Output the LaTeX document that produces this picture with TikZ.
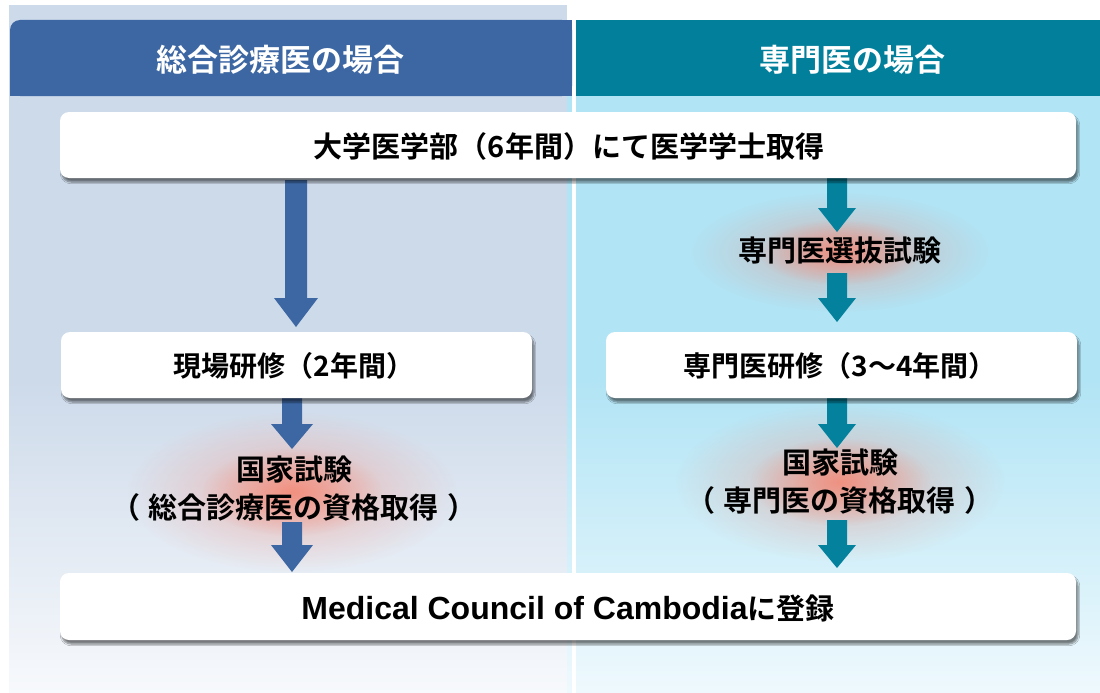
\documentclass[tikz,border=0pt]{standalone}
\usepackage{fontspec}
\usetikzlibrary{fadings,shadows.blur}
\newfontfamily\jpb{Noto Sans CJK JP Bold}
\newfontfamily\lat{Liberation Sans}
\definecolor{lbg}{HTML}{CDDAEA}
\definecolor{lbgend}{HTML}{F7F9FC}
\definecolor{rbg}{HTML}{B1E4F5}
\definecolor{rbgend}{HTML}{EFF9FD}
\definecolor{lhd}{HTML}{3D67A3}
\definecolor{rhd}{HTML}{027F9B}
\definecolor{larr}{HTML}{3D67A3}
\definecolor{rarr}{HTML}{04819C}
\definecolor{glowc}{HTML}{F7806A}
\tikzfading[name=glowfade, inner color=transparent!0, outer color=transparent!100]
\newcommand\blockarr[7]{%
  \fill[#1] ({#2-#3},#5) -- ({#2+#3},#5) -- ({#2+#3},#6) -- ({#2+#4},#6) -- (#2,#7)
    -- ({#2-#4},#6) -- ({#2-#3},#6) -- cycle;}
\newcommand\glowat[3]{%
  \fill[glow, fill opacity=0.45] #1 ellipse ({#2} and {#3});
  \fill[glow, fill opacity=0.7] #1 ellipse ({0.55*#2} and {0.55*#3});}
\begin{document}
\begin{tikzpicture}[x=1pt,y=-1pt,
  wbox/.style={fill=white, rounded corners=9pt, inner sep=0pt,
    blur shadow={shadow xshift=2pt, shadow yshift=-4pt, shadow opacity=50, shadow blur steps=6}},
  btxt/.style={font=\jpb\fontsize{28}{32}\selectfont, text=black},
  htxt/.style={font=\jpb\fontsize{31}{34}\selectfont, text=white},
  etxt/.style={font=\jpb\fontsize{29}{38}\selectfont, text=black, align=center},
  glow/.style={fill=glowc, path fading=glowfade}
]
\useasboundingbox (0,0) rectangle (1100,693);
\fill[white] (0,0) rectangle (1100,693);
% backgrounds
\fill[lbg] (9,5) rectangle (567,381);
\shade[top color=lbg, bottom color=lbgend] (9,380) rectangle (567,693);
\fill[rbg] (567,96) rectangle (1100,381);
\shade[top color=rbg, bottom color=rbgend] (567,380) rectangle (1100,693);
\fill[white] (572,20) rectangle (576,693);
% headers
\fill[lhd, rounded corners=10pt] (10,20) rectangle (572,96);
\fill[lhd] (100,20) rectangle (572,96);
\fill[lhd] (10,60) rectangle (572,96);
\fill[rhd] (576,20) rectangle (1100,96);
\node[htxt] (hl) at (280,60) {総合診療医の場合};
\node[htxt] (hr) at (852,60) {専門医の場合};
% glows
\glowat{(840,252)}{150}{60}
\glowat{(292,492)}{165}{80}
\glowat{(840,482)}{165}{80}
% arrows
\blockarr{larr}{296}{11}{22}{180}{298}{327}
\blockarr{larr}{292}{10}{21}{398}{424}{449}
\blockarr{larr}{292}{10}{21}{522}{545}{572}
\blockarr{rarr}{837}{10}{19}{178}{208}{232}
\blockarr{rarr}{837}{10}{19}{273}{298}{322}
\blockarr{rarr}{837}{10}{19}{398}{424}{448}
\blockarr{rarr}{837}{10}{19}{520}{545}{568}
% boxes
\node[wbox, minimum width=1016pt, minimum height=66pt] (univ) at (568,145) {};
\node[btxt, font=\jpb\fontsize{29}{32}\selectfont] at (569,146) {大学医学部（6年間）にて医学学士取得};
\node[wbox, minimum width=471pt, minimum height=66pt] (gen) at (296.5,365) {};
\node[btxt] at (294,366) {現場研修（2年間）};
\node[wbox, minimum width=471pt, minimum height=66pt] (spec) at (841.5,365) {};
\node[btxt] at (840,366) {専門医研修（3〜4年間）};
\node[wbox, minimum width=1016pt, minimum height=67pt] (reg) at (568,606.5) {};
\node[btxt] at (568,608) {{\lat\bfseries\fontsize{32}{34}\selectfont Medical Council of Cambodia}{\fontsize{29}{32}\selectfont に登録}};
% exam texts
\node[etxt] (sel) at (840,251) {専門医選抜試験};
\node[etxt] (exl) at (294,489) {国家試験\\（\hspace{9pt}総合診療医の資格取得\hspace{9pt}）};
\node[etxt] (exr) at (840,482) {国家試験\\（\hspace{9pt}専門医の資格取得\hspace{9pt}）};
\end{tikzpicture}
\end{document}
